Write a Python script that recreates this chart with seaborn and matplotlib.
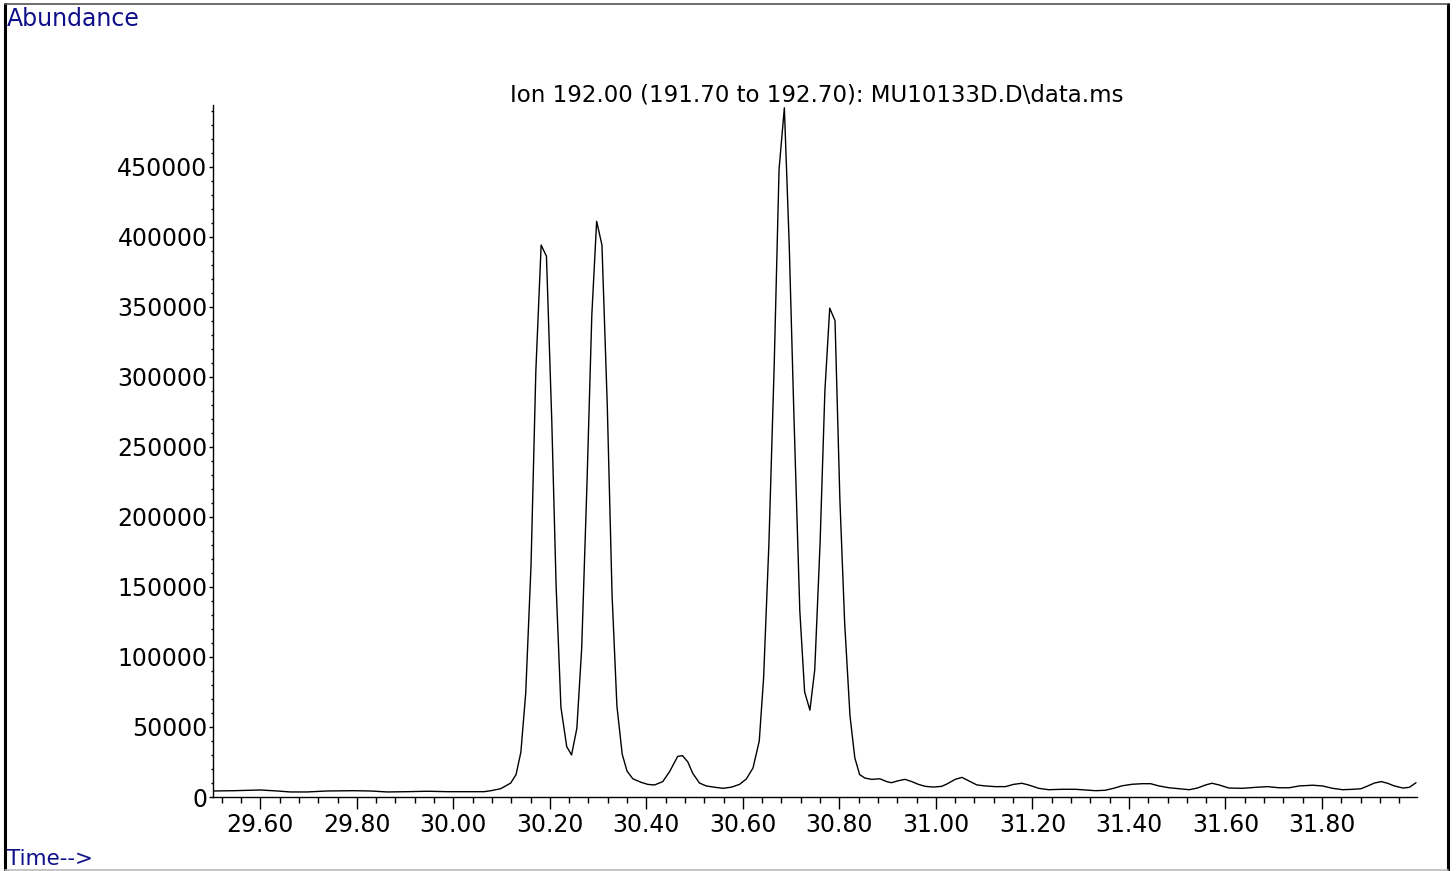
import matplotlib
matplotlib.use("Agg")
import matplotlib.pyplot as plt
import seaborn as sns
import pandas as pd
from matplotlib.ticker import MultipleLocator, FormatStrFormatter
from matplotlib.lines import Line2D

# ---- data ----
time_min = [
    29.503, 29.545, 29.600, 29.635, 29.662, 29.697, 29.739, 29.794, 29.828, 29.863,
    29.905, 29.946, 29.988, 30.029, 30.064, 30.078, 30.098, 30.109, 30.119, 30.130,
    30.140, 30.150, 30.161, 30.171, 30.182, 30.193, 30.204, 30.213, 30.223, 30.235,
    30.245, 30.256, 30.266, 30.277, 30.287, 30.297, 30.308, 30.319, 30.329, 30.339,
    30.350, 30.360, 30.372, 30.389, 30.403, 30.417, 30.434, 30.448, 30.465, 30.475,
    30.486, 30.496, 30.510, 30.524, 30.541, 30.559, 30.576, 30.593, 30.607, 30.621,
    30.634, 30.643, 30.654, 30.665, 30.675, 30.686, 30.696, 30.706, 30.718, 30.728,
    30.739, 30.749, 30.760, 30.770, 30.780, 30.791, 30.801, 30.811, 30.822, 30.832,
    30.842, 30.853, 30.867, 30.884, 30.898, 30.908, 30.922, 30.936, 30.950, 30.964,
    30.978, 30.995, 31.012, 31.023, 31.040, 31.054, 31.068, 31.085, 31.102, 31.123,
    31.144, 31.161, 31.178, 31.192, 31.213, 31.234, 31.261, 31.289, 31.309, 31.331,
    31.351, 31.368, 31.386, 31.407, 31.428, 31.445, 31.462, 31.483, 31.504, 31.525,
    31.542, 31.559, 31.572, 31.587, 31.607, 31.635, 31.663, 31.687, 31.711, 31.732,
    31.753, 31.781, 31.801, 31.822, 31.843, 31.864, 31.881, 31.895, 31.909, 31.923,
    31.936, 31.950, 31.968, 31.981, 31.995,
]
abundance = [
    4300, 4500, 5000, 4300, 3600, 3600, 4300, 4500, 4300, 3600,
    3800, 4100, 3800, 3800, 3800, 4500, 5900, 8000, 10000, 16000,
    32000, 74000, 165000, 304000, 394000, 386000, 269000, 151000, 64000, 36000,
    30000, 49000, 106000, 224000, 344000, 411000, 394000, 280000, 144000, 65000,
    30500, 18500, 13000, 10500, 9000, 8600, 11000, 18000, 29000, 29500,
    25000, 17000, 10000, 7900, 7000, 6200, 7000, 9000, 12800, 20700,
    40000, 85000, 181000, 309000, 448000, 492000, 395000, 270000, 133000, 75000,
    62000, 91000, 181000, 290000, 349000, 340000, 213000, 124000, 58000, 28000,
    16000, 13500, 12600, 13000, 11000, 10200, 11600, 12600, 11000, 9000,
    7600, 7100, 7600, 9300, 12600, 14000, 11600, 8600, 7900, 7400,
    7400, 9000, 9800, 8600, 6200, 5200, 5500, 5500, 5000, 4500,
    4800, 6200, 8000, 9100, 9500, 9500, 7900, 6600, 5900, 5200,
    6400, 8600, 9800, 8600, 6400, 6200, 6900, 7400, 6600, 6600,
    7900, 8400, 7900, 6200, 5200, 5500, 5900, 7900, 10000, 11000,
    9800, 7900, 6400, 6900, 10200,
]

title_text = "Ion 192.00 (191.70 to 192.70): MU10133D.D\\data.ms"
y_label_text = "Abundance"
x_label_text = "Time-->"

df = pd.DataFrame({"time": time_min, "abundance": abundance})

sns.set_style("ticks")
plt.rcParams["font.family"] = ["DejaVu Sans"]

W, H = 1456, 871
fig = plt.figure(figsize=(W / 100, H / 100), dpi=100)
ax = fig.add_axes([213 / W, 1 - 797 / H, (1417 - 213) / W, (797 - 105) / H])

sns.lineplot(data=df, x="time", y="abundance", ax=ax, color="black",
             linewidth=1.0, estimator=None, sort=False)

ax.set_xlim(29.502, 31.997)
ax.set_ylim(0, 494000)
ax.set_xlabel("")
ax.set_ylabel("")

ax.xaxis.set_major_locator(MultipleLocator(0.2))
ax.xaxis.set_minor_locator(MultipleLocator(0.04))
ax.xaxis.set_major_formatter(FormatStrFormatter("%.2f"))
ax.yaxis.set_major_locator(MultipleLocator(50000))
ax.yaxis.set_minor_locator(MultipleLocator(10000))
ax.yaxis.set_major_formatter(FormatStrFormatter("%d"))

ax.tick_params(axis="x", which="major", length=8.5, width=1.0, labelsize=17,
               pad=3, direction="out", color="black", labelcolor="black")
ax.tick_params(axis="x", which="minor", length=4.3, width=1.0, direction="out",
               color="black")
ax.tick_params(axis="y", which="major", length=3, width=1.0, labelsize=17,
               pad=1, direction="out", color="black", labelcolor="black")
ax.tick_params(axis="y", which="minor", length=1.5, width=1.0, direction="out",
               color="black")

for s in ["top", "right"]:
    ax.spines[s].set_visible(False)
for s in ["left", "bottom"]:
    ax.spines[s].set_color("black")
    ax.spines[s].set_linewidth(1.0)

# texts
fig.text(7 / W, 1 - 26 / H, y_label_text, color="#10108a", fontsize=17,
         ha="left", va="baseline")
fig.text(817 / W, 1 - 101 / H, title_text, color="black", fontsize=16.5,
         ha="center", va="baseline")
fig.text(7 / W, 1 - 865 / H, x_label_text, color="#10108a", fontsize=15.5,
         ha="left", va="baseline")

# outer frame
fig.add_artist(Line2D([5 / W, 5 / W], [1 - 4 / H, 1 - 870 / H], transform=fig.transFigure,
                      color="black", linewidth=2.2))
fig.add_artist(Line2D([1448 / W, 1448 / W], [1 - 4 / H, 1 - 870 / H], transform=fig.transFigure,
                      color="black", linewidth=2.2))
fig.add_artist(Line2D([5 / W, 1448 / W], [1 - 4.5 / H, 1 - 4.5 / H], transform=fig.transFigure,
                      color="#555555", linewidth=1.2))
fig.add_artist(Line2D([5 / W, 1448 / W], [1 - 869.5 / H, 1 - 869.5 / H], transform=fig.transFigure,
                      color="#bbbbbb", linewidth=1.2))

fig.savefig("out.png", dpi=100)
